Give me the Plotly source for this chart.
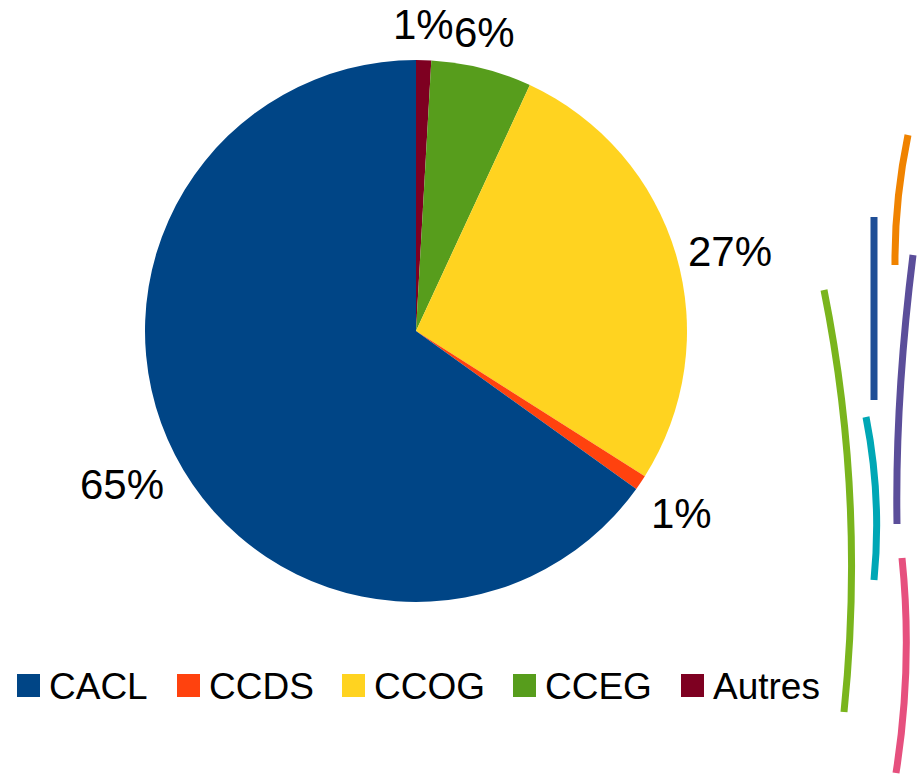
import math
import plotly.graph_objects as go

# ---- data ----
labels = ["CACL", "CCDS", "CCOG", "CCEG", "Autres"]
values = [65.1, 0.9, 27.1, 6.0, 0.9]
colors = ["#004586", "#FF420E", "#FFD320", "#579D1C", "#7E0021"]

W, H = 917, 775
FONT = "Liberation Sans, Arial, sans-serif"

# pie geometry (pixels)
CX, CY, R = 416, 331, 271


def px(x, y):
    return x / W, 1 - y / H


fig = go.Figure()
# slices drawn clockwise from 12 o'clock in reverse order
fig.add_trace(go.Pie(
    labels=labels[::-1], values=values[::-1], sort=False, direction="clockwise",
    rotation=0,
    marker=dict(colors=colors[::-1], line=dict(width=0)),
    textinfo="none",
    domain=dict(x=[(CX - R) / W, (CX + R) / W], y=[1 - (CY + R) / H, 1 - (CY - R) / H]),
    showlegend=False, hoverinfo="label+percent", automargin=False,
))

shapes = []
annotations = []

# percentage labels placed outside each slice at its mid-angle
total = sum(values)
cum = 0.0
for lab, v in zip(labels[::-1], values[::-1]):
    mid = (cum + v / 2) / total * 2 * math.pi
    cum += v
    s, c = math.sin(mid), math.cos(mid)
    rr = R + 11
    x, y = px(CX + rr * s, CY - rr * c)
    xa = "left" if s > 0.3 else ("right" if s < -0.3 else "center")
    ya = "bottom" if c > 0.3 else ("top" if c < -0.3 else "middle")
    annotations.append(dict(text=f"{round(100 * v / total)}%", x=x, y=y,
                            xref="paper", yref="paper", xanchor=xa, yanchor=ya,
                            showarrow=False, borderpad=0,
                            font=dict(family=FONT, size=42, color="black")))

# custom legend (large square swatches)
leg_x = [17, 177, 342, 513, 681]
leg_y0, leg_y1 = 674, 697
for lab, col, x0 in zip(labels, colors, leg_x):
    a0, b0 = px(x0, leg_y0)
    a1, b1 = px(x0 + 23, leg_y1)
    shapes.append(dict(type="rect", xref="paper", yref="paper",
                       x0=a0, x1=a1, y0=b1, y1=b0,
                       fillcolor=col, line=dict(width=0)))
    tx, ty = px(x0 + 30, 686)
    annotations.append(dict(text=lab, x=tx, y=ty, xref="paper", yref="paper",
                            xanchor="left", yanchor="middle", showarrow=False,
                            font=dict(family=FONT, size=37, color="black")))

# decorative curved strokes on the right
deco = [
    ("#F08300", (908, 135), (894.5, 200), (895, 265)),
    ("#5B4E9A", (913, 255), (895, 400), (897, 524)),
    ("#7AB51D", (824, 290), (866, 499), (844, 712)),
    ("#00A7B5", (866, 417), (882, 498), (874, 580)),
    ("#E6507E", (902, 558), (913, 665), (896, 773)),
]
for col, p0, cc, p2 in deco:
    a = px(*p0); b = px(*cc); d = px(*p2)
    path = f"M {a[0]},{a[1]} Q {b[0]},{b[1]} {d[0]},{d[1]}"
    shapes.append(dict(type="path", xref="paper", yref="paper", path=path,
                       line=dict(color=col, width=7)))
a = px(874, 217); b = px(874, 400)
shapes.append(dict(type="line", xref="paper", yref="paper",
                   x0=a[0], y0=a[1], x1=b[0], y1=b[1],
                   line=dict(color="#1F4E96", width=7)))

fig.update_layout(
    width=W, height=H,
    margin=dict(l=0, r=0, t=0, b=0, pad=0, autoexpand=False),
    paper_bgcolor="white", plot_bgcolor="white",
    shapes=shapes, annotations=annotations,
    font=dict(family=FONT),
)

fig.write_html("out.html")
